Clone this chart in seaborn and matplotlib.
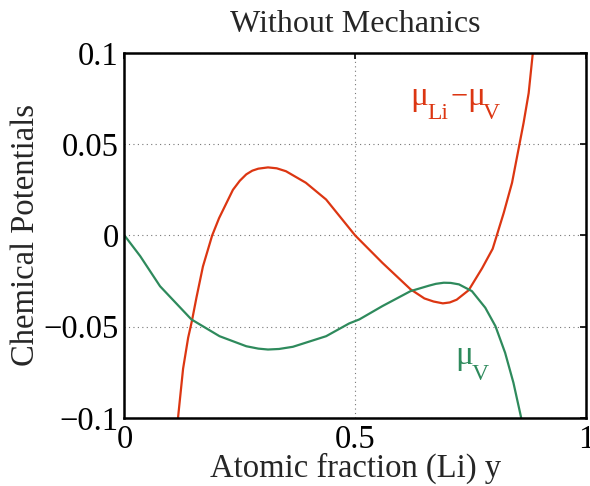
import matplotlib
matplotlib.use("Agg")
import matplotlib.pyplot as plt
from matplotlib.transforms import IdentityTransform
import seaborn as sns
import pandas as pd

# Data
red_x = [0.108, 0.116, 0.127, 0.138, 0.146, 0.156, 0.170, 0.190, 0.205, 0.235,
         0.250, 0.264, 0.277, 0.290, 0.311, 0.330, 0.350, 0.393, 0.437, 0.500,
         0.559, 0.620, 0.650, 0.670, 0.690, 0.705, 0.720, 0.746, 0.775, 0.798,
         0.822, 0.840, 0.856, 0.865, 0.876, 0.885, 0.892]
red_y = [-0.115, -0.100, -0.073, -0.056, -0.047, -0.034, -0.017, 0.000, 0.0095, 0.0250,
         0.0300, 0.0335, 0.0355, 0.0366, 0.0373, 0.0368, 0.0352, 0.0289, 0.0197, 0.0,
         -0.0150, -0.0295, -0.0345, -0.0362, -0.0372, -0.0367, -0.0352, -0.0300, -0.0180, -0.0073,
         0.0124, 0.0289, 0.0499, 0.0617, 0.078, 0.100, 0.115]

green_x = [0.0, 0.034, 0.077, 0.145, 0.206, 0.264, 0.290, 0.311, 0.335, 0.365,
           0.437, 0.487, 0.509, 0.559, 0.620, 0.660, 0.675, 0.692, 0.707, 0.725,
           0.753, 0.782, 0.804, 0.825, 0.843, 0.859, 0.866]
green_y = [0.0, -0.0113, -0.0278, -0.046, -0.0552, -0.0607, -0.0620, -0.0625, -0.0622, -0.061,
           -0.0552, -0.0482, -0.046, -0.0387, -0.0305, -0.0275, -0.0265, -0.0259, -0.0260, -0.0268,
           -0.0305, -0.0396, -0.0497, -0.0643, -0.0807, -0.099, -0.108]

x_ticks = [0, 0.5, 1]
x_tick_labels = ["0", "0.5", "1"]
y_ticks = [-0.1, -0.05, 0, 0.05, 0.1]
y_tick_labels = ["\u22120.1", "\u22120.05", "0", "0.05", "0.1"]

RED = "#dc3612"
GREEN = "#2e8a5c"
FS = 23.5

sns.set_theme(style="white")
plt.rcParams["font.family"] = ["Liberation Serif", "DejaVu Serif"]

W, H = 590, 486
fig = plt.figure(figsize=(W / 100, H / 100), dpi=100)
ax = fig.add_axes([0.211, 0.140, 0.782, 0.751])

df_red = pd.DataFrame({"x": red_x, "y": red_y})
df_green = pd.DataFrame({"x": green_x, "y": green_y})
sns.lineplot(data=df_red, x="x", y="y", ax=ax, color=RED, lw=1.6, sort=False)
sns.lineplot(data=df_green, x="x", y="y", ax=ax, color=GREEN, lw=1.6, sort=False)

ax.set_xlim(0, 1)
ax.set_ylim(-0.1, 0.1)
ax.set_xticks(x_ticks)
ax.set_xticklabels(x_tick_labels)
ax.set_yticks(y_ticks)
ax.set_yticklabels(y_tick_labels)
ax.tick_params(axis="both", direction="in", length=4, width=1.2, colors="black",
               labelsize=FS, pad=4, top=True, right=True)
ax.tick_params(axis="x", pad=5)
ax.grid(True, linestyle=(0, (1, 3)), color="#777777", linewidth=0.8)
for s in ax.spines.values():
    s.set_visible(True)
    s.set_color("black")
    s.set_linewidth(1.8)

ax.set_xlabel("Atomic fraction (Li) y", fontsize=FS, labelpad=-2)
ax.set_ylabel("Chemical Potentials", fontsize=FS, labelpad=2)
ax.set_title("Without Mechanics", fontsize=23, pad=15)

# Curve labels (positioned in pixels, top-left origin converted to display coords)
def put(xp, yp_base, s, color, size):
    fig.text(xp, H - yp_base, s, transform=IdentityTransform(), color=color,
             fontsize=size, ha="left", va="baseline")

put(410, 105, "\u03bc", RED, 24)
put(427, 119, "Li", RED, 17)
put(451, 104, "\u2212", RED, 22)
put(467, 105, "\u03bc", RED, 24)
put(483, 119, "V", RED, 17)

put(455, 364, "\u03bc", GREEN, 24)
put(472, 380, "V", GREEN, 17)

fig.savefig("out.png", dpi=100)
